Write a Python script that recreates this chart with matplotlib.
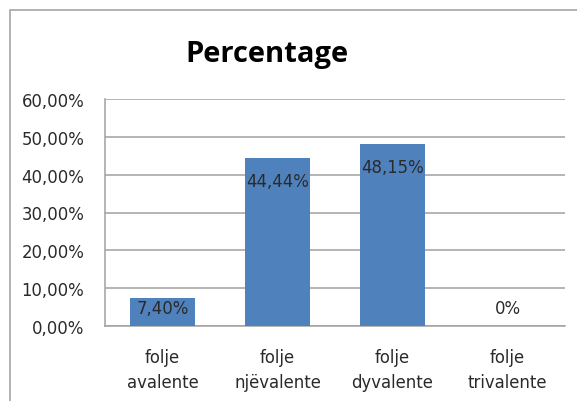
import matplotlib
matplotlib.use("Agg")
import matplotlib.pyplot as plt
from matplotlib.patches import Rectangle
from matplotlib.ticker import FuncFormatter

categories = ["folje\navalente", "folje\nnjëvalente", "folje\ndyvalente", "folje\ntrivalente"]
values = [7.40, 44.44, 48.15, 0.0]
value_labels = ["7,40%", "44,44%", "48,15%", "0%"]
title = "Percentage"

plt.rcParams['font.family'] = ['DejaVu Sans']

W, H = 577, 402
fig = plt.figure(figsize=(W / 100, H / 100), dpi=100)
fig.patch.set_facecolor("white")

# outer chart border
fig.patches.append(Rectangle((10 / W, -0.1), 1.2, (H - 11) / H + 0.1,
                             transform=fig.transFigure, fill=False,
                             edgecolor="#A6A6A6", linewidth=1.2))

ax = fig.add_axes([105 / W, (H - 327) / H, (565 - 105) / W, (327 - 100) / H])
x = list(range(len(categories)))
ax.bar(x, values, width=0.57, color="#4F81BD", zorder=3)
ax.set_xlim(-0.5, len(categories) - 0.5)
ax.set_ylim(0, 60)
ax.set_yticks(range(0, 61, 10))
ax.yaxis.set_major_formatter(FuncFormatter(lambda v, p: f"{v:.2f}".replace(".", ",") + "%"))
ax.set_xticks(x)
txtc = "#2a2a2a"
ax.set_xticklabels(categories, fontsize=11.9, linespacing=1.45, color=txtc)
ax.tick_params(axis="y", length=0, pad=15, labelsize=11.9, labelcolor=txtc)
ax.tick_params(axis="x", length=0, pad=16)
ax.grid(axis="y", color="#A0A0A0", linewidth=1.1, zorder=0)
for s in ["top", "right"]:
    ax.spines[s].set_visible(False)
for s in ["left", "bottom"]:
    ax.spines[s].set_color("#A0A0A0")
    ax.spines[s].set_linewidth(1.1)

# data labels: inside near the top of tall bars, otherwise just above the baseline
for xi, v, lab in zip(x, values, value_labels):
    if v > 11.5:
        ax.annotate(lab, (xi, v), xytext=(0, -17), textcoords="offset points",
                    ha="center", va="center", fontsize=11.9, color=txtc, zorder=4)
    else:
        ax.annotate(lab, (xi, 0), xytext=(0, 13), textcoords="offset points",
                    ha="center", va="center", fontsize=11.9, color=txtc, zorder=4)

fig.text(267 / W, 1 - 54.5 / H, title, ha="center", va="center",
         fontsize=21, fontweight="bold", color="black", family="Open Sans")

fig.savefig("out.png", dpi=100)
